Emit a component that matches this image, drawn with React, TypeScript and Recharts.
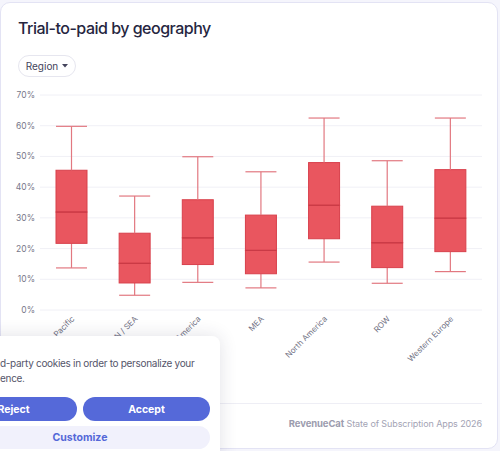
import React from 'react';
import { Bar, CartesianGrid, ComposedChart, XAxis, YAxis } from 'recharts';

const REGIONS = ['Asia Pacific', 'IN / SEA', 'Latin America', 'MEA', 'North America', 'ROW', 'Western Europe'];
const MIN = [13.7, 4.8, 9.0, 7.2, 15.6, 8.7, 12.5];
const Q1 = [21.7, 8.8, 14.8, 11.8, 23.2, 13.8, 19.0];
const MEDIAN = [31.9, 15.2, 23.5, 19.4, 34.1, 21.9, 29.9];
const Q3 = [45.5, 25.0, 35.9, 30.9, 48.0, 33.8, 45.7];
const MAX = [59.8, 37.1, 49.9, 45.0, 62.5, 48.6, 62.5];
const Y_TICKS = [0, 10, 20, 30, 40, 50, 60, 70];

const BOX = '#e9565f';
const BOX_EDGE = '#d8404b';
const WHISKER = '#e27880';
const FONT = 'Inter, "Noto Sans", sans-serif';

const rows = REGIONS.map((region, i) => ({
  region,
  base: MIN[i],
  lowW: Q1[i] - MIN[i],
  boxLow: MEDIAN[i] - Q1[i],
  boxHigh: Q3[i] - MEDIAN[i],
  highW: MAX[i] - Q3[i],
}));

const LowWhisker = (p: any) => {
  const cx = p.x + p.width / 2;
  const bottom = p.y + p.height;
  return (
    <g stroke={WHISKER} strokeWidth={1.2}>
      <line x1={cx} x2={cx} y1={p.y} y2={bottom} />
      <line x1={p.x} x2={p.x + p.width} y1={bottom} y2={bottom} />
    </g>
  );
};

const HighWhisker = (p: any) => {
  const cx = p.x + p.width / 2;
  return (
    <g stroke={WHISKER} strokeWidth={1.2}>
      <line x1={cx} x2={cx} y1={p.y} y2={p.y + p.height} />
      <line x1={p.x} x2={p.x + p.width} y1={p.y} y2={p.y} />
    </g>
  );
};

const BoxLow = (p: any) => (
  <rect x={p.x} y={p.y} width={p.width} height={p.height} fill={BOX} stroke={BOX_EDGE} strokeWidth={1} />
);

const BoxHigh = (p: any) => (
  <g>
    <rect x={p.x} y={p.y} width={p.width} height={p.height} fill={BOX} stroke={BOX_EDGE} strokeWidth={1} />
    <line x1={p.x} x2={p.x + p.width} y1={p.y + p.height} y2={p.y + p.height} stroke="#c93a46" strokeWidth={1.2} />
  </g>
);

const RegionTick = ({ x, y, payload }: any) => (
  <g transform={`translate(${x + 2},${y})`}>
    <text x={0} y={0} dy={2} textAnchor="end" transform="rotate(-45)" fontSize={8} fill="#6f6f82" fontFamily={FONT}>
      {payload.value}
    </text>
  </g>
);

const button = {
  position: 'absolute' as const,
  height: 24,
  borderRadius: 12,
  fontSize: 10.5,
  fontWeight: 700,
  display: 'flex',
  alignItems: 'center',
  justifyContent: 'center',
};

export default function App() {
  return (
    <div style={{ position: 'fixed', left: 0, top: 0, width: 500, height: 451, overflow: 'hidden', background: '#f5f5fc', fontFamily: FONT }}>
      <div
        style={{
          position: 'absolute',
          left: 0,
          top: 2,
          width: 496,
          height: 445,
          background: '#fff',
          border: '1px solid #e3e3f4',
          borderRadius: 10,
        }}
      />
      <div style={{ position: 'absolute', left: 18, top: 18, fontSize: 16, fontWeight: 500, color: '#26263f', letterSpacing: -0.5 }}>
        Trial-to-paid by geography
      </div>
      <div
        style={{
          position: 'absolute',
          left: 18,
          top: 55,
          width: 56,
          height: 20,
          border: '1px solid #e6e6ef',
          borderRadius: 11,
          fontSize: 10,
          color: '#44445c',
          display: 'flex',
          alignItems: 'center',
          justifyContent: 'center',
        }}
      >
        Region
        <svg width={6} height={4} style={{ marginLeft: 4 }}>
          <path d="M0 0 L6 0 L3 3.5 Z" fill="#44445c" />
        </svg>
      </div>

      <div style={{ position: 'absolute', left: 0, top: 85 }}>
        <ComposedChart width={500} height={300} data={rows} margin={{ top: 10, right: 18, left: 4, bottom: 15 }}>
          <CartesianGrid stroke="#f0f0f6" vertical={false} />
          <XAxis dataKey="region" tick={<RegionTick />} tickLine={false} axisLine={false} interval={0} height={60} />
          <YAxis
            domain={[0, 70]}
            ticks={Y_TICKS}
            tickFormatter={(v) => `${v}%`}
            tick={{ fontSize: 8.5, fill: '#77778a', fontFamily: FONT }}
            tickLine={false}
            axisLine={false}
            tickSize={3}
            tickMargin={2}
            width={36}
          />
          <Bar dataKey="base" stackId="b" fill="transparent" barSize={31} isAnimationActive={false} />
          <Bar dataKey="lowW" stackId="b" shape={<LowWhisker />} barSize={31} isAnimationActive={false} />
          <Bar dataKey="boxLow" stackId="b" shape={<BoxLow />} barSize={31} isAnimationActive={false} />
          <Bar dataKey="boxHigh" stackId="b" shape={<BoxHigh />} barSize={31} isAnimationActive={false} />
          <Bar dataKey="highW" stackId="b" shape={<HighWhisker />} barSize={31} isAnimationActive={false} />
        </ComposedChart>
      </div>

      <div style={{ position: 'absolute', left: 40, top: 403, width: 442, height: 1, background: '#eeeef5' }} />
      <div style={{ position: 'absolute', right: 18, top: 418, fontSize: 9, color: '#a3a3b4', whiteSpace: 'nowrap', letterSpacing: -0.1 }}>
        <span style={{ fontWeight: 700, fontSize: 9.5, color: '#9c9cae' }}>RevenueCat</span> State of Subscription Apps 2026
      </div>

      <div
        style={{
          position: 'absolute',
          left: -80,
          top: 336,
          width: 300,
          height: 130,
          background: '#fff',
          borderRadius: 8,
          boxShadow: '0 0 18px rgba(40,40,80,0.14)',
        }}
      />
      <div style={{ position: 'absolute', left: 0, top: 356, fontSize: 10, lineHeight: '15px', color: '#55556a', whiteSpace: 'nowrap', letterSpacing: -0.3 }}>
        d-party cookies in order to personalize your
        <br />
        ence.
      </div>
      <div style={{ ...button, left: -50, top: 397, width: 127, background: '#5569d9', color: '#fff' }}>Reject</div>
      <div style={{ ...button, left: 83, top: 397, width: 127, background: '#5569d9', color: '#fff' }}>Accept</div>
      <div style={{ ...button, left: -50, top: 426, width: 260, height: 23, background: '#f1f1fc', color: '#5468d8' }}>
        Customize
      </div>
    </div>
  );
}
